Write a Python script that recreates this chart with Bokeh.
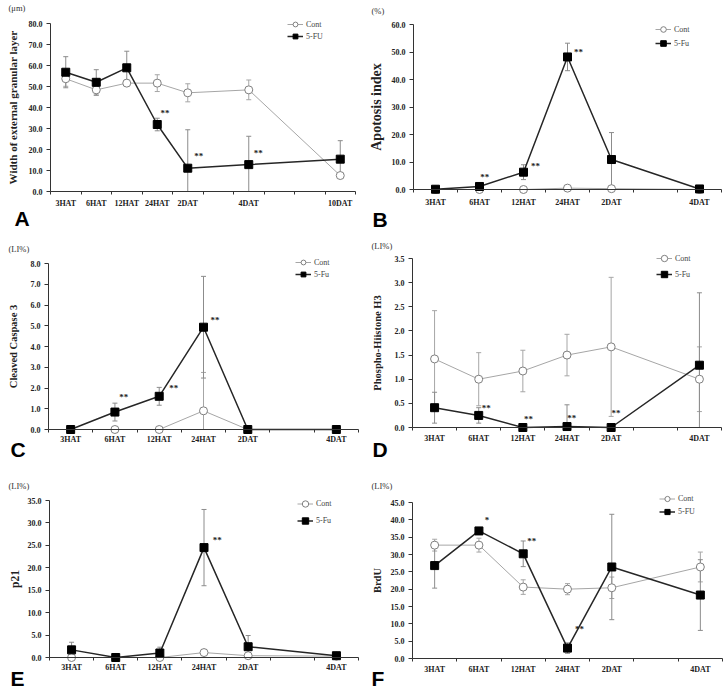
from bokeh.plotting import figure
from bokeh.models import (FixedTicker, PrintfTickFormatter, Label, Legend,
                          LegendItem, Range1d)
from bokeh.layouts import column, row
from bokeh.embed import file_html
from bokeh.resources import INLINE
from bokeh.core.properties import value

# ------------------------------------------------------------------ data
A_labels = ["3HAT", "6HAT", "12HAT", "24HAT", "2DAT", "4DAT", "10DAT"]
A_slot = [0, 1, 2, 3, 4, 6, 9]
A_cont = [53.7, 48.4, 51.6, 51.6, 47.0, 48.4, 7.6]
A_cont_err = [3.6, 2.7, 1.5, 4.0, 4.3, 4.7, 1.2]
A_fu = [56.8, 52.0, 58.9, 31.9, 11.1, 12.8, 15.4]
A_fu_err = [7.4, 6.0, 7.9, 3.0, 18.3, 13.5, 8.8]
A_sig_x = [3.25, 4.36, 6.31]
A_sig_y = [37.4, 17.0, 18.3]
A_sig = ["**", "**", "**"]

T_labels = ["3HAT", "6HAT", "12HAT", "24HAT", "2DAT", "4DAT"]
T_slot = [0, 1, 2, 3, 4, 6]

B_cont = [0.0, 0.0, 0.0, 0.5, 0.3, 0.0]
B_cont_err = [0.0, 0.0, 0.0, 0.3, 0.3, 0.0]
B_fu = [0.1, 1.1, 6.3, 48.2, 10.9, 0.2]
B_fu_err = [0.1, 0.5, 2.7, 5.0, 9.8, 0.2]
B_sig_x = [1.12, 2.27, 3.25]
B_sig_y = [4.5, 8.7, 49.9]
B_sig = ["**", "**", "**"]

C_cont = [0.0, 0.0, 0.0, 0.9, 0.0, 0.0]
C_cont_err = [0.0, 0.0, 0.0, 1.85, 0.0, 0.0]
C_fu = [0.0, 0.84, 1.6, 4.93, 0.0, 0.0]
C_fu_err = [0.0, 0.43, 0.43, 2.45, 0.0, 0.0]
C_sig_x = [1.2, 2.33, 3.26]
C_sig_y = [1.56, 2.0, 5.29]
C_sig = ["**", "**", "**"]

D_cont = [1.42, 1.0, 1.17, 1.5, 1.67, 1.0]
D_cont_err = [1.0, 0.55, 0.43, 0.43, 1.44, 0.67]
D_fu = [0.41, 0.25, 0.0, 0.02, 0.0, 1.29]
D_fu_err = [0.32, 0.16, 0.0, 0.45, 0.0, 1.5]
D_sig_x = [1.17, 2.13, 3.11, 4.11]
D_sig_y = [0.4, 0.17, 0.19, 0.3]
D_sig = ["**", "**", "**", "**"]

E_cont = [0.0, 0.0, 0.0, 1.1, 0.4, 0.3]
E_cont_err = [0.0, 0.0, 0.0, 0.3, 0.3, 0.2]
E_fu = [1.7, 0.0, 1.0, 24.5, 2.4, 0.4]
E_fu_err = [1.7, 0.0, 1.3, 8.5, 2.5, 0.3]
E_sig_x = [3.3]
E_sig_y = [26.2]
E_sig = ["**"]

F_cont = [32.7, 32.7, 20.6, 20.0, 20.4, 26.4]
F_cont_err = [1.7, 2.0, 2.1, 1.6, 3.1, 4.3]
F_fu = [26.8, 36.8, 30.2, 3.0, 26.4, 18.3]
F_fu_err = [6.5, 1.0, 3.7, 1.5, 15.2, 10.2]
F_sig_x = [1.18, 2.19, 3.27]
F_sig_y = [40.0, 34.0, 8.6]
F_sig = ["*", "**", "**"]

# ------------------------------------------------------------------ style
SERIF = "Liberation Serif"
SANS = "Liberation Sans"
CONT_LINE = "#a6a6a6"
CONT_MARK = "#7f7f7f"
FU_LINE = "#262626"
ERR_CONT = "#a6a6a6"
ERR_FU = "#8c8c8c"
AXIS = "#333333"


def errbars(p, xs, ys, es, color):
    sx, lo, hi, cx, cy = [], [], [], [], []
    for x, y, e in zip(xs, ys, es):
        if e <= 0:
            continue
        sx.append(x)
        lo.append(max(y - e, 0.0))
        hi.append(y + e)
        cx.append(x)
        cy.append(y + e)
        if y - e > 0:
            cx.append(x)
            cy.append(y - e)
    p.segment(x0=sx, y0=lo, x1=sx, y1=hi, line_color=color, line_width=1)
    p.scatter(x=cx, y=cy, marker="dash", size=5, line_color=color, line_width=1)


def panel(labels, slot, nslots, cont, cont_err, fu, fu_err, sig_x, sig_y, sig,
          fu_name, ylabel, unit, ymax, ystep, geo):
    fx, fy, fw, fh = geo["fig"]
    fl, fr, ft, zy = geo["frame"]
    sw = (fr - fl) / nslots
    ppu = (zy - ft) / ymax
    x0 = -0.5 - (fl - fx) / sw
    x1 = nslots - 0.5 + (fx + fw - fr) / sw
    y0 = -(fy + fh - zy) / ppu
    y1 = ymax + (ft - fy) / ppu
    p = figure(width=fw, height=fh, x_range=Range1d(x0, x1),
               y_range=Range1d(y0, y1), output_backend="svg",
               toolbar_location=None, tools="", min_border=0)
    p.outline_line_color = None
    p.xgrid.visible = False
    p.ygrid.visible = False
    p.background_fill_color = "white"
    p.border_fill_color = "white"

    # y axis, crossing at the left edge of the category area
    nt = int(round(ymax / ystep))
    p.yaxis.fixed_location = -0.5
    p.yaxis.bounds = (0, ymax)
    p.yaxis.ticker = FixedTicker(ticks=[i * ystep for i in range(nt + 1)])
    p.yaxis.formatter = PrintfTickFormatter(format="%.1f")
    p.yaxis.axis_line_color = AXIS
    p.yaxis.major_tick_line_color = AXIS
    p.yaxis.major_tick_out = 4
    p.yaxis.major_tick_in = 0
    p.yaxis.minor_tick_line_color = None
    p.yaxis.major_label_text_font = SERIF
    p.yaxis.major_label_text_font_style = "bold"
    p.yaxis.major_label_text_font_size = "8px"
    p.yaxis.major_label_text_color = "#222222"
    p.yaxis.major_label_standoff = 4
    p.yaxis.axis_label = ylabel
    p.yaxis.axis_label_text_font = SERIF
    p.yaxis.axis_label_text_font_style = "bold"
    p.yaxis.axis_label_text_font_size = geo["yfont"]
    p.yaxis.axis_label_text_color = "#222222"
    p.yaxis.axis_label_standoff = geo["als"]

    # x axis: category slots, crossing at zero
    p.xaxis.fixed_location = 0
    p.xaxis.bounds = (-0.5, nslots - 0.5)
    p.xaxis.ticker = FixedTicker(ticks=slot,
                                 minor_ticks=[i - 0.5 for i in range(nslots + 1)])
    p.xaxis.major_label_overrides = {s: l for s, l in zip(slot, labels)}
    p.xaxis.axis_line_color = AXIS
    p.xaxis.major_tick_line_color = None
    p.xaxis.major_tick_out = 0
    p.xaxis.major_tick_in = 0
    p.xaxis.minor_tick_line_color = AXIS
    p.xaxis.minor_tick_in = 0
    p.xaxis.minor_tick_out = 3
    p.xaxis.major_label_text_font = SERIF
    p.xaxis.major_label_text_font_style = "bold"
    p.xaxis.major_label_text_font_size = "8px"
    p.xaxis.major_label_text_color = "#222222"
    p.xaxis.major_label_standoff = geo["xso"]

    errbars(p, slot, cont, cont_err, ERR_CONT)
    errbars(p, slot, fu, fu_err, ERR_FU)
    lc = p.line(slot, cont, line_color=CONT_LINE, line_width=1)
    mc = p.scatter(slot, cont, marker="circle", size=8, fill_color="white",
                   line_color=CONT_MARK, line_width=1)
    lf = p.line(slot, fu, line_color=FU_LINE, line_width=1.5)
    mf = p.scatter(slot, fu, marker="square", size=8, fill_color="black",
                   line_color="black")
    p.text(x=sig_x, y=sig_y, text=sig, text_font=value(SERIF),
           text_font_style="bold", text_font_size="9px", text_color="#222222",
           text_align="center", text_baseline="middle")

    lx, ly, rh = geo["legend"]
    leg = Legend(items=[LegendItem(label="Cont", renderers=[lc, mc]),
                        LegendItem(label=fu_name, renderers=[lf, mf])],
                 location=(lx - fx, fy + fh - (ly + 2 * rh)),
                 glyph_width=16, glyph_height=rh, label_height=rh,
                 label_width=10, label_standoff=3, spacing=0, padding=0,
                 margin=0, background_fill_alpha=0, border_line_color=None,
                 label_text_font=SERIF, label_text_font_size="8px",
                 label_text_color="#444444")
    p.add_layout(leg)

    ux, uy = geo["unit"]
    p.add_layout(Label(x=ux - fx, y=fy + fh - uy, x_units="screen",
                       y_units="screen", text=unit, text_font=SERIF,
                       text_font_size="8.5px", text_color="#333333",
                       text_baseline="middle", text_align="left"))
    tx, ty = geo["letter"]
    p.add_layout(Label(x=tx - fx, y=fy + fh - ty, x_units="screen",
                       y_units="screen", text=geo["name"], text_font=SANS,
                       text_font_style="bold", text_font_size="21px",
                       text_color="black", text_baseline="top",
                       text_align="left"))
    return p


GEO = {
    "A": dict(name="A", fig=(0, 0, 363, 234), frame=(50, 355, 23, 191),
              legend=(287, 18, 12), unit=(8, 7), letter=(14, 206),
              yfont="11px", als=7, xso=4),
    "B": dict(name="B", fig=(363, 0, 363, 234), frame=(413, 721, 24, 189),
              legend=(655, 22, 14), unit=(371, 10), letter=(372, 207),
              yfont="14px", als=5, xso=5),
    "C": dict(name="C", fig=(0, 234, 363, 230), frame=(48, 358, 263, 429),
              legend=(295, 256, 12), unit=(8, 248), letter=(10, 437),
              yfont="10.5px", als=9, xso=2),
    "D": dict(name="D", fig=(363, 234, 363, 230), frame=(412, 721, 258, 427),
              legend=(656, 250, 16), unit=(371, 245), letter=(372, 437),
              yfont="10.5px", als=9, xso=3),
    "E": dict(name="E", fig=(0, 464, 363, 230), frame=(49, 358, 500, 657),
              legend=(297, 495, 17), unit=(8, 485), letter=(10, 666),
              yfont="11.5px", als=4, xso=2),
    "F": dict(name="F", fig=(363, 464, 363, 230), frame=(412, 722, 502, 658),
              legend=(659, 492, 13), unit=(371, 485), letter=(371, 666),
              yfont="10.5px", als=5, xso=3),
}

pA = panel(A_labels, A_slot, 10, A_cont, A_cont_err, A_fu, A_fu_err,
           A_sig_x, A_sig_y, A_sig, "5-FU", "Width of external granular layer",
           "(μm)", 80, 10, GEO["A"])
pB = panel(T_labels, T_slot, 7, B_cont, B_cont_err, B_fu, B_fu_err,
           B_sig_x, B_sig_y, B_sig, "5-Fu", "Apotosis index", "(%)", 60, 10, GEO["B"])
pC = panel(T_labels, T_slot, 7, C_cont, C_cont_err, C_fu, C_fu_err,
           C_sig_x, C_sig_y, C_sig, "5-Fu", "Cleaved Caspase 3", "(LI%)", 8, 1, GEO["C"])
pD = panel(T_labels, T_slot, 7, D_cont, D_cont_err, D_fu, D_fu_err,
           D_sig_x, D_sig_y, D_sig, "5-Fu", "Phospho-Hiistone H3", "(LI%)", 3.5, 0.5, GEO["D"])
pE = panel(T_labels, T_slot, 7, E_cont, E_cont_err, E_fu, E_fu_err,
           E_sig_x, E_sig_y, E_sig, "5-Fu", "p21", "(LI%)", 35, 5, GEO["E"])
pF = panel(T_labels, T_slot, 7, F_cont, F_cont_err, F_fu, F_fu_err,
           F_sig_x, F_sig_y, F_sig, "5-FU", "BrdU", "(LI%)", 45, 5, GEO["F"])

layout = column(row(pA, pB), row(pC, pD), row(pE, pF))

with open("out.html", "w") as f:
    f.write(file_html(layout, INLINE, "Figure"))
